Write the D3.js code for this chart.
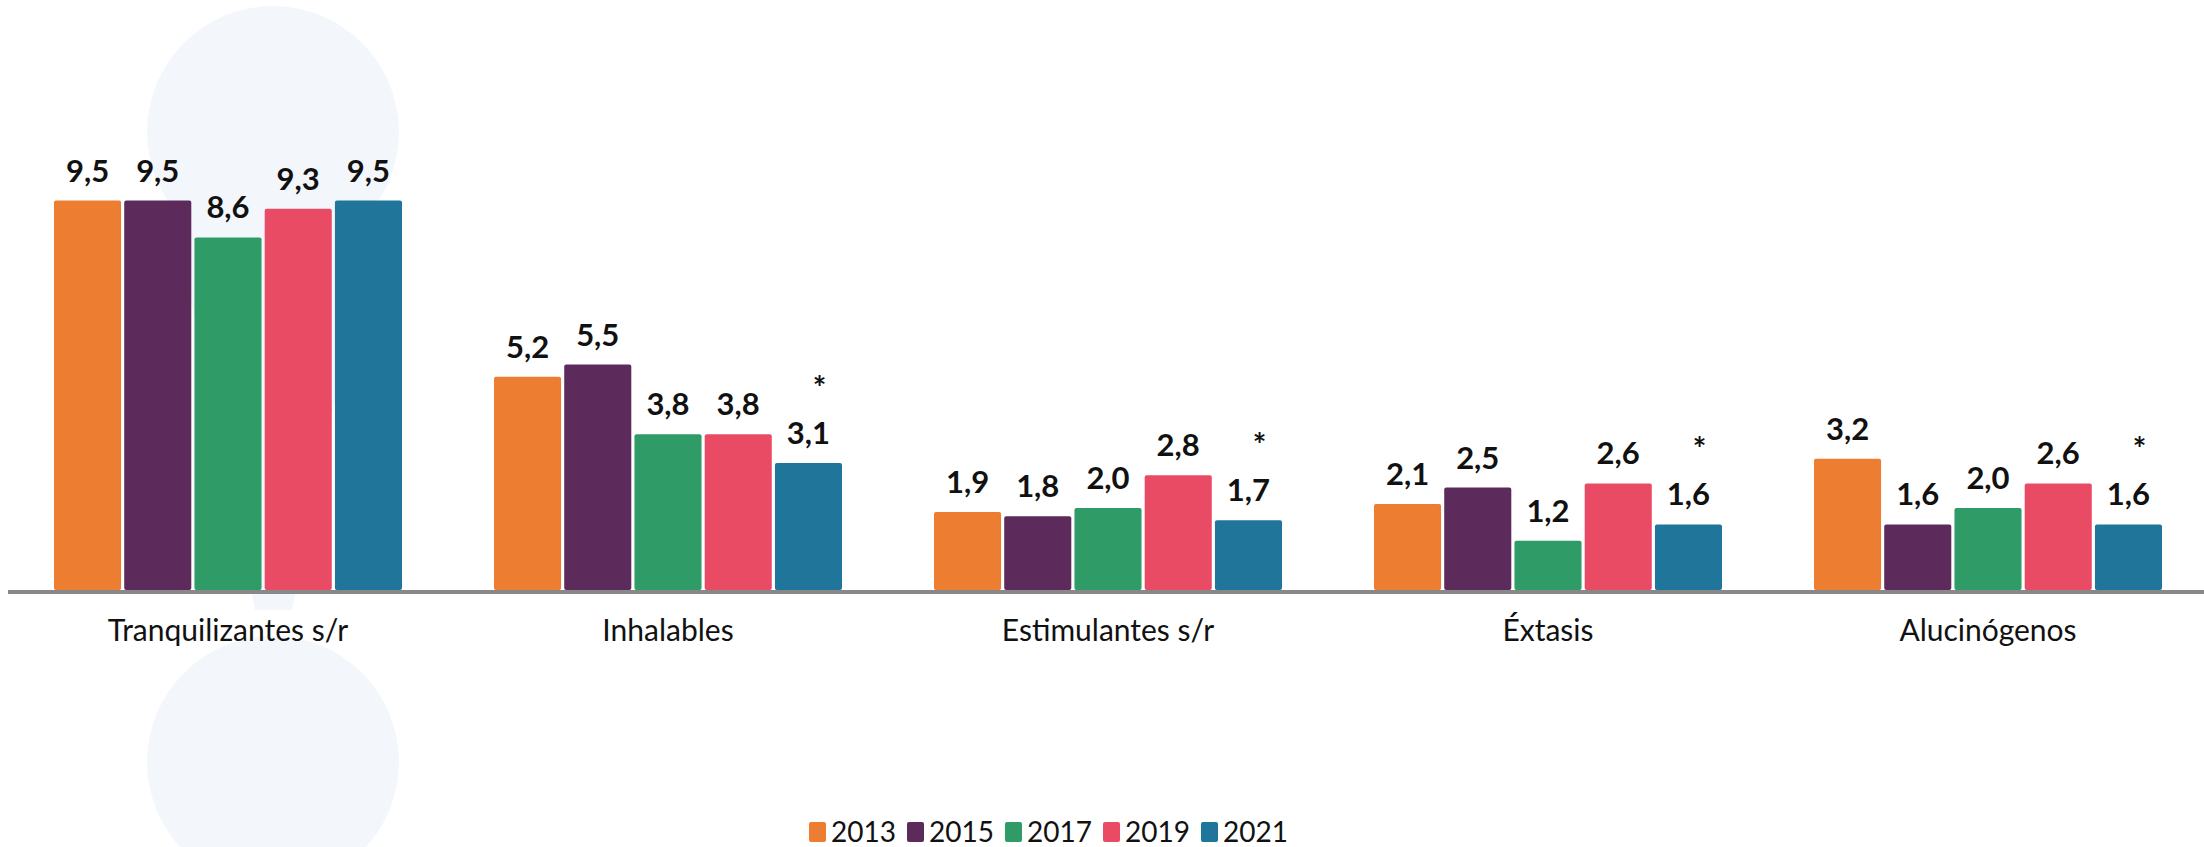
<!DOCTYPE html>
<html>
<head>
<meta charset="utf-8">
<script src="https://cdn.jsdelivr.net/npm/d3@7"></script>
<style>
  body { margin: 0; background: #fff; }
  svg { display: block; }
</style>
</head>
<body>
<div id="chart"></div>
<script>
const categories = ['Tranquilizantes s/r', 'Inhalables', 'Estimulantes s/r', 'Éxtasis', 'Alucinógenos'];
const years = ['2013', '2015', '2017', '2019', '2021'];
const v2013 = [9.5, 5.2, 1.9, 2.1, 3.2];
const v2015 = [9.5, 5.5, 1.8, 2.5, 1.6];
const v2017 = [8.6, 3.8, 2.0, 1.2, 2.0];
const v2019 = [9.3, 3.8, 2.8, 2.6, 2.6];
const v2021 = [9.5, 3.1, 1.7, 1.6, 1.6];
const flagged2021 = [false, true, true, true, true]; // asterisk above 2021 value
const colors = ['#ED7D31', '#5C2B5B', '#2F9C67', '#E94B65', '#1F759A'];

const series = [v2013, v2015, v2017, v2019, v2021];
const W = 2204, H = 847;
const base = 590;

const svg = d3.select('#chart').append('svg')
  .attr('width', W).attr('height', H);

// faint watermark shape in the background
const bg = svg.append('g').attr('fill', '#f3f7fc');
bg.append('circle').attr('cx', 273).attr('cy', 132).attr('r', 126);
bg.append('path').attr('d', 'M170,200 L255,610 L292,610 L376,200 Z');
bg.append('circle').attr('cx', 273).attr('cy', 762).attr('r', 126);

const x0 = d3.scaleBand()
  .domain(categories)
  .range([8, 2208])
  .paddingInner(0.209)
  .paddingOuter(0.1045);

const x1 = d3.scaleBand()
  .domain(years)
  .range([0, x0.bandwidth()])
  .paddingInner(0.045);

const y = d3.scaleLinear()
  .domain([0, 10])
  .range([base, 180]);

const fmt = v => d3.format('.1f')(v).replace('.', ',');

const groups = svg.append('g').selectAll('g')
  .data(categories)
  .join('g')
  .attr('transform', d => `translate(${x0(d)},0)`);

groups.selectAll('rect')
  .data((c, ci) => years.map((yr, si) => ({ yr, si, v: series[si][ci] })))
  .join('rect')
  .attr('x', d => x1(d.yr))
  .attr('y', d => y(d.v))
  .attr('width', x1.bandwidth())
  .attr('height', d => base - y(d.v))
  .attr('rx', 2)
  .attr('fill', d => colors[d.si]);

groups.selectAll('text.val')
  .data((c, ci) => years.map((yr, si) => ({ yr, si, v: series[si][ci] })))
  .join('text')
  .attr('class', 'val')
  .attr('x', d => x1(d.yr) + x1.bandwidth() / 2)
  .attr('y', d => y(d.v) - 19)
  .attr('text-anchor', 'middle')
  .attr('font-family', 'Lato, sans-serif')
  .attr('font-weight', 'bold')
  .attr('font-size', 31)
  .attr('fill', '#111')
  .text(d => fmt(d.v));

groups.filter((c, ci) => flagged2021[ci])
  .append('text')
  .attr('x', (c) => x1('2021') + x1.bandwidth() / 2 + 11)
  .attr('y', (c) => y(v2021[categories.indexOf(c)]) - 19 - 44)
  .attr('text-anchor', 'middle')
  .attr('font-family', 'Lato, sans-serif')
  .attr('font-weight', 'bold')
  .attr('font-size', 32)
  .attr('fill', '#111')
  .text('*');

// axis
const xAxis = d3.axisBottom(x0).tickSize(0).tickPadding(28);
const ax = svg.append('g')
  .attr('transform', `translate(0,${base + 2})`)
  .call(xAxis);
ax.select('.domain').remove();
ax.selectAll('text')
  .attr('font-family', 'Lato, sans-serif')
  .attr('font-size', 30)
  .attr('fill', '#111');
svg.append('line')
  .attr('x1', 8).attr('x2', W)
  .attr('y1', base + 2).attr('y2', base + 2)
  .attr('stroke', '#888').attr('stroke-width', 4);

// legend
const legend = svg.append('g').attr('transform', 'translate(809,822)');
const li = legend.selectAll('g')
  .data(years)
  .join('g')
  .attr('transform', (d, i) => `translate(${i * 98},0)`);
li.append('rect')
  .attr('width', 17).attr('height', 20).attr('rx', 2)
  .attr('fill', (d, i) => colors[i]);
li.append('text')
  .attr('x', 22).attr('y', 20)
  .attr('font-family', 'Lato, sans-serif')
  .attr('font-size', 28)
  .attr('fill', '#111')
  .text(d => d);
</script>
</body>
</html>
